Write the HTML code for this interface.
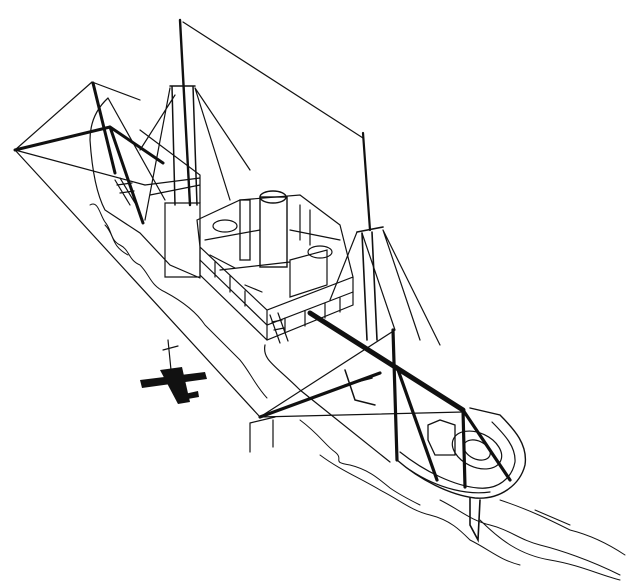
<!DOCTYPE html>
<html><head><meta charset="utf-8"><style>
html,body{margin:0;padding:0;background:#fff;width:640px;height:582px;overflow:hidden}
svg{display:block}
</style></head><body>
<svg width="640" height="582" viewBox="0 0 640 582" xmlns="http://www.w3.org/2000/svg" fill="none" stroke="#111" stroke-width="1.2" stroke-linecap="round">
<!-- rigging -->
<path d="M15,150 L92,82 M15,150 L260,417 M183,22 L363,138 M170,88 L145,220 M195,88 L230,200 M195,88 L250,170 M357,232 L330,300 M362,233 L395,330 M383,230 L420,340 M383,230 L440,345 M260,417 L395,330 M260,417 L463,412 M92,82 L140,100 M15,150 L145,185 M175,95 L140,150"/>
<!-- bow derrick -->
<path d="M15,150 L110,127 M93,83 L115,173 M110,127 L143,223 M110,127 L163,163" stroke-width="3"/>
<!-- masts -->
<path d="M180,20 L190,205" stroke-width="2.4"/>
<path d="M170,86 L195,86 M172,86 L175,205 M193,86 L197,205" stroke-width="1.5"/>
<path d="M363,133 L370,230" stroke-width="2.2"/>
<path d="M357,232 L383,227 M362,233 L367,340 M372,232 L377,340" stroke-width="1.6"/>
<!-- bow hull -->
<path d="M108,98 C95,110 90,125 90,140 C92,170 97,195 105,210 L140,233 L170,265 L200,278 M165,203 L200,203 L200,277 L165,277 Z M108,98 L165,200"/>
<path d="M115,180 L130,205 M120,178 L135,203 M117,185 L132,183 M120,193 L134,191"/>
<path d="M140,130 L200,175 L200,203 M150,195 L200,185 M145,185 L200,178"/>
<!-- superstructure -->
<path d="M197,220 L240,200 L300,195 L340,225 L353,277 L267,310 L200,247 Z M200,247 L200,275 L267,340 L353,305 L353,277 M267,310 L267,340"/>
<path d="M200,260 L267,325 L353,292 M215,262 L215,277 M230,276 L230,292 M245,291 L245,306 M285,318 L285,333 M305,311 L305,326 M325,303 L325,318 M340,298 L340,312"/>
<path d="M205,240 L260,230 M290,230 L340,240 M220,270 L290,262 M290,260 L327,250 L327,285 L290,297 Z"/>
<rect x="260" y="197" width="27" height="70" stroke-width="1.4"/>
<ellipse cx="273" cy="197" rx="13" ry="6" stroke-width="1.4"/>
<rect x="240" y="200" width="10" height="60" stroke-width="1.3"/>
<ellipse cx="225" cy="226" rx="12" ry="6"/>
<ellipse cx="320" cy="252" rx="12" ry="6"/>
<path d="M210,255 L235,268 M245,285 L262,292 M300,205 L300,240 M310,210 L310,245"/>
<path d="M270,315 L280,343 M278,313 L288,341 M272,322 L282,320 M274,330 L284,328"/>
<!-- boom & stern derricks -->
<path d="M310,313 L463,410" stroke-width="5"/>
<path d="M393,330 L397,460 M397,367 L437,480 M260,417 L380,373 M463,410 L465,487 M463,410 L510,480" stroke-width="3.2"/>
<path d="M345,370 L355,400 L375,405 M345,385 L372,378" stroke-width="1.5"/>
<!-- hull lower -->
<path d="M250,423 L250,452 M273,420 L273,447 M250,423 L275,417 M265,345 C262,360 275,365 300,390 L390,462"/>
<!-- stern -->
<path d="M397,460 C420,480 450,495 475,498 C500,500 520,485 525,465 C528,445 515,430 500,415 L470,408" stroke-width="1.4"/>
<path d="M400,452 C425,472 455,486 478,488 C498,490 512,478 515,462 C516,447 505,435 492,422" />
<path d="M410,470 C440,490 470,495 490,492"/>
<ellipse cx="477" cy="450" rx="26" ry="17" transform="rotate(25 477 450)"/>
<ellipse cx="477" cy="450" rx="14" ry="9" transform="rotate(25 477 450)"/>
<path d="M428,425 L440,420 L455,425 L455,455 L435,455 L428,440 Z" stroke-width="1.3"/>
<path d="M470,498 L470,525 L478,540 L480,500" stroke-width="1.6"/>
<!-- plane -->
<g fill="#111" stroke="none">
<path d="M140,380 L205,372 L207,379 L142,388 Z"/>
<path d="M160,370 L182,367 L190,402 L178,404 Z"/>
<path d="M180,395 L198,391 L199,397 L182,400 Z"/>
</g>
<path d="M168,340 L171,370 M163,350 L178,346"/>
<!-- wake -->
<path d="M90,205 C98,200 100,215 105,222 C112,230 110,240 120,245 C130,250 128,260 140,265 C150,275 150,285 165,292 C180,300 195,310 205,325 C215,335 225,345 240,360 C250,372 255,385 267,398 M105,225 C115,235 110,245 128,255" stroke-width="1"/>
<path d="M300,420 C320,435 325,445 335,452 C345,460 330,462 350,465 C370,470 380,480 390,488 C400,495 410,500 420,505 M320,455 C340,470 360,478 380,490 C400,500 410,510 430,515 C450,520 460,530 470,540 C490,550 500,560 520,565 M440,500 C460,510 470,520 490,525 C510,530 520,540 540,545 C560,550 590,560 620,575 M500,500 C530,510 550,520 570,530 C590,535 610,545 625,555 M480,520 C500,540 520,555 550,560 C580,565 600,575 620,580 M535,510 L570,525" stroke-width="1"/>
</svg>
</body></html>
